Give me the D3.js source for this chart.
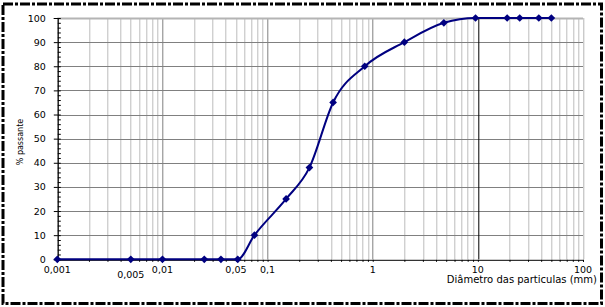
<!DOCTYPE html>
<html>
<head>
<meta charset="utf-8">
<script src="https://cdn.jsdelivr.net/npm/d3@7"></script>
<style>
  body { margin: 0; background: #fff; }
  text { font-family: "DejaVu Sans", Verdana, sans-serif; }
</style>
</head>
<body>
<div class="chart"></div>
<script>
// sieve sizes (mm) and % passing
const diameters = [0.001, 0.005, 0.01, 0.025, 0.036, 0.052, 0.075, 0.15, 0.25, 0.42, 0.84, 2, 4.75, 9.5, 19, 25, 38, 50]
const passing = [0, 0, 0, 0, 0, 0, 10, 25, 38, 65, 80, 90, 98, 100, 100, 100, 100, 100]

const xTickValues = [0.001, 0.005, 0.01, 0.05, 0.1, 1, 10, 100]
const xTickLabels = ["0,001", "0,005", "0,01", "0,05", "0,1", "1", "10", "100"]
const yTickValues = [0, 10, 20, 30, 40, 50, 60, 70, 80, 90, 100]

const W = 605, H = 307
const margin = {left: 57.3, right: 22, top: 18, bottom: 47.7}
const width = W - margin.left - margin.right
const height = H - margin.top - margin.bottom

const data = diameters.map(function(d, i){ return {d: d, p: passing[i]} })

const xScale = d3.scaleLog()
	.domain([0.001, 100])
	.range([0, width])

const yScale = d3.scaleLinear()
	.domain([0, 100])
	.range([height, 0])

let svg = d3.select(".chart")
	.append("svg")
	.attr("width", W)
	.attr("height", H)

// outer dashed frame
svg.append("rect")
	.attr("x", 3)
	.attr("y", 4)
	.attr("width", 598.5)
	.attr("height", 299.5)
	.attr("fill", "none")
	.attr("stroke", "#000")
	.attr("stroke-width", 3)
	.attr("stroke-dasharray", "10,2,3,2")

let g = svg.append("g")
	.attr("transform", "translate(" + margin.left + ", " + margin.top + ")")

// vertical log grid
const minorVals = []
for (let e = -3; e <= 1; e++) {
	for (let k = 2; k <= 9; k++) minorVals.push(k * Math.pow(10, e))
}
const decadeVals = [0.001, 0.01, 0.1, 1, 100]

g.selectAll(".vminor")
	.data(minorVals)
	.enter()
	.append("line")
	.attr("x1", function(d){ return Math.round(xScale(d)) + 0.5 })
	.attr("x2", function(d){ return Math.round(xScale(d)) + 0.5 })
	.attr("y1", 0)
	.attr("y2", height)
	.attr("stroke", "#bcbcbc")

g.selectAll(".vmajor")
	.data(decadeVals)
	.enter()
	.append("line")
	.attr("x1", function(d){ return Math.round(xScale(d)) + 0.5 })
	.attr("x2", function(d){ return Math.round(xScale(d)) + 0.5 })
	.attr("y1", 0)
	.attr("y2", height)
	.attr("stroke", function(d){ return d == 100 ? "#b4b4b4" : "#808080" })

// horizontal grid
g.selectAll(".hgrid")
	.data(yTickValues.filter(function(v){ return v > 0 }))
	.enter()
	.append("line")
	.attr("x1", 0)
	.attr("x2", width)
	.attr("y1", function(d){ return Math.round(yScale(d)) + 0.5 })
	.attr("y2", function(d){ return Math.round(yScale(d)) + 0.5 })
	.attr("stroke", function(d){ return d == 100 ? "#b4b4b4" : "#808080" })
	.attr("stroke-width", function(d){ return d == 100 ? 2 : 1 })

// the 10 mm line is black
g.append("line")
	.attr("x1", Math.round(xScale(10)) + 0.5)
	.attr("x2", Math.round(xScale(10)) + 0.5)
	.attr("y1", 0)
	.attr("y2", height)
	.attr("stroke", "#000")

// Y axis
const yAxisCall = d3.axisLeft(yScale)
	.tickValues(yTickValues)
	.tickSize(4)
	.tickPadding(8)

let yAxis = g.append("g")
	.attr("class", "y axis")
	.attr("transform", "translate(0.5, 0)")
	.call(yAxisCall)
yAxis.select(".domain").attr("stroke", "#000")
yAxis.selectAll("text")
	.attr("font-family", "DejaVu Sans, sans-serif")
	.attr("font-size", "9.5px")
	.attr("fill", "#000")

// minor y ticks inside
g.append("g")
	.attr("transform", "translate(0.5, 0)")
	.call(d3.axisRight(yScale).tickValues(d3.range(0, 101, 2)).tickSize(3).tickFormat(""))
	.select(".domain").remove()

// X axis
const xAxisCall = d3.axisBottom(xScale)
	.tickValues(minorVals.concat(decadeVals).concat([10]))
	.tickSize(2)
	.tickFormat("")

let xAxis = g.append("g")
	.attr("class", "x axis")
	.attr("transform", "translate(0, " + (height + 0.5) + ")")
	.call(xAxisCall)
xAxis.select(".domain").attr("stroke", "#000")

g.selectAll(".xlabel")
	.data(xTickValues)
	.enter()
	.append("text")
	.attr("x", function(d){ return xScale(d) })
	.attr("y", function(d, i){ return height + (d == 0.005 ? 19 : 14) })
	.attr("font-size", "9.5px")
	.attr("text-anchor", "middle")
	.text(function(d, i){ return xTickLabels[i] })

// Axis labels
g.append("text")
	.attr("x", width + 14)
	.attr("y", height + 24)
	.attr("font-size", "10px")
	.attr("text-anchor", "end")
	.text("Diâmetro das particulas (mm)")

g.append("text")
	.attr("x", -124)
	.attr("y", -34)
	.attr("font-size", "8px")
	.attr("text-anchor", "middle")
	.attr("transform", "rotate(-90)")
	.text("% passante")

// curve
const line = d3.line()
	.x(function(d){ return xScale(d.d) })
	.y(function(d){ return yScale(d.p) })
	.curve(d3.curveMonotoneX)

g.append("path")
	.datum(data)
	.attr("d", line)
	.attr("fill", "none")
	.attr("stroke", "#000080")
	.attr("stroke-width", 2)

g.selectAll(".pt")
	.data(data)
	.enter()
	.append("path")
	.attr("d", d3.symbol().type(d3.symbolDiamond2).size(38))
	.attr("transform", function(d){ return "translate(" + xScale(d.d) + "," + yScale(d.p) + ")" })
	.attr("fill", "#000080")
</script>
</body>
</html>
